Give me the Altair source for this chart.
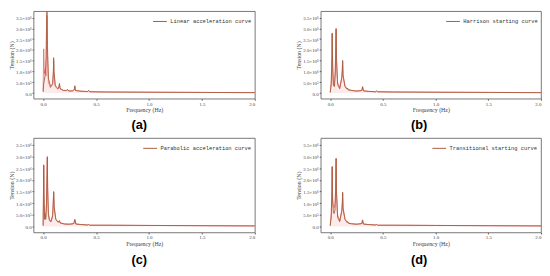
import altair as alt
import pandas as pd

# ---- data (tension in units of 1e6 N) ----
FREQ_A = [0.0, 0.006, 0.012, 0.02, 0.028, 0.033, 0.037, 0.041, 0.05, 0.07, 0.09, 0.097, 0.1, 0.103, 0.115, 0.14, 0.15, 0.155, 0.16, 0.19, 0.22, 0.23, 0.24, 0.28, 0.295, 0.3, 0.305, 0.35, 0.42, 0.43, 0.44, 0.6, 1.0, 1.5, 2.0]
MAIN_A = [0.05, 0.45, 0.6, 0.85, 1.6, 3.2, 3.95, 2.2, 0.7, 0.3, 0.45, 1.0, 1.64, 1.0, 0.35, 0.2, 0.3, 0.45, 0.22, 0.13, 0.12, 0.17, 0.1, 0.1, 0.18, 0.34, 0.12, 0.09, 0.07, 0.13, 0.06, 0.05, 0.04, 0.03, 0.02]
RED_A = [0.1, 2.05, 0.9, 1.1, 0.8, 2.5, 3.6, 1.8, 0.5, 0.25, 0.4, 0.9, 1.5, 0.9, 0.3, 0.18, 0.28, 0.4, 0.2, 0.12, 0.11, 0.15, 0.1, 0.1, 0.16, 0.3, 0.12, 0.09, 0.07, 0.11, 0.06, 0.05, 0.04, 0.03, 0.02]

FREQ_B = [0.0, 0.01, 0.016, 0.019, 0.023, 0.03, 0.035, 0.04, 0.048, 0.053, 0.056, 0.06, 0.07, 0.09, 0.11, 0.115, 0.118, 0.122, 0.14, 0.16, 0.165, 0.17, 0.2, 0.25, 0.3, 0.307, 0.315, 0.36, 0.43, 0.44, 0.45, 0.6, 1.0, 1.5, 2.0]
MAIN_B = [0.02, 0.4, 1.6, 2.78, 1.2, 0.35, 0.4, 0.3, 0.9, 2.2, 3.0, 1.5, 0.4, 0.2, 0.7, 1.1, 1.52, 0.8, 0.3, 0.18, 0.22, 0.15, 0.12, 0.09, 0.12, 0.3, 0.1, 0.08, 0.06, 0.1, 0.06, 0.05, 0.04, 0.03, 0.02]
RED_B = [0.05, 0.6, 1.8, 2.75, 1.4, 0.5, 0.45, 0.4, 1.1, 2.3, 2.95, 1.6, 0.5, 0.25, 0.75, 1.1, 1.45, 0.85, 0.35, 0.2, 0.22, 0.16, 0.13, 0.1, 0.12, 0.28, 0.11, 0.08, 0.06, 0.09, 0.06, 0.05, 0.04, 0.03, 0.02]

FREQ_C = [0.0, 0.003, 0.006, 0.009, 0.015, 0.02, 0.025, 0.032, 0.037, 0.04, 0.043, 0.05, 0.06, 0.075, 0.09, 0.095, 0.1, 0.105, 0.12, 0.14, 0.15, 0.155, 0.16, 0.2, 0.25, 0.29, 0.3, 0.31, 0.36, 0.42, 0.43, 0.44, 0.6, 1.0, 1.5, 2.0]
MAIN_C = [0.02, 1.0, 2.65, 1.2, 0.3, 0.45, 0.3, 0.9, 2.2, 3.0, 1.6, 0.5, 0.25, 0.2, 0.45, 0.9, 1.5, 0.8, 0.3, 0.18, 0.2, 0.25, 0.15, 0.1, 0.09, 0.12, 0.3, 0.1, 0.08, 0.06, 0.08, 0.05, 0.05, 0.04, 0.03, 0.02]
RED_C = [0.05, 1.2, 2.6, 1.4, 0.45, 0.55, 0.4, 1.0, 2.3, 2.95, 1.7, 0.6, 0.3, 0.22, 0.5, 0.95, 1.45, 0.85, 0.32, 0.2, 0.21, 0.24, 0.16, 0.11, 0.1, 0.12, 0.28, 0.1, 0.08, 0.06, 0.08, 0.05, 0.05, 0.04, 0.03, 0.02]

FREQ_D = [0.0, 0.01, 0.016, 0.019, 0.023, 0.03, 0.037, 0.045, 0.05, 0.053, 0.056, 0.06, 0.07, 0.09, 0.11, 0.115, 0.118, 0.122, 0.14, 0.16, 0.165, 0.17, 0.2, 0.25, 0.3, 0.307, 0.315, 0.36, 0.43, 0.44, 0.45, 0.6, 1.0, 1.5, 2.0]
MAIN_D = [0.02, 0.4, 1.5, 2.58, 1.0, 0.6, 0.55, 0.7, 1.3, 2.1, 2.93, 1.4, 0.4, 0.2, 0.65, 1.0, 1.47, 0.75, 0.3, 0.17, 0.2, 0.14, 0.11, 0.09, 0.12, 0.28, 0.1, 0.08, 0.06, 0.08, 0.05, 0.05, 0.04, 0.03, 0.02]
RED_D = [0.05, 0.6, 1.7, 2.55, 1.2, 0.9, 0.8, 0.95, 1.5, 2.2, 2.9, 1.5, 0.5, 0.25, 0.7, 1.0, 1.42, 0.8, 0.33, 0.19, 0.2, 0.15, 0.12, 0.1, 0.12, 0.26, 0.1, 0.08, 0.06, 0.08, 0.05, 0.05, 0.04, 0.03, 0.02]

LABELS = ["Linear acceleration curve", "Harrison starting curve",
          "Parabolic acceleration curve", "Transitional starting curve"]
CAPTIONS = ["(a)", "(b)", "(c)", "(d)"]
X_TICKS = [0.0, 0.5, 1.0, 1.5, 2.0]
Y_TICKS = [0.0, 0.5, 1.0, 1.5, 2.0, 2.5, 3.0, 3.5]

MONO = "Liberation Mono"
SERIF = "Liberation Serif"

Y_LABEL_EXPR = ("datum.value == 0 ? '0.0' : (datum.value < 1 ? '5.0×10⁵' : "
                "format(datum.value, '.1f') + '×10⁶')")


def panel(freq, main, red, label, caption, dx, w, h, cap_offset):
    df = pd.DataFrame({"f": freq, "main": main, "red": red, "series": label})
    xenc = alt.X("f:Q",
                 scale=alt.Scale(domain=[-0.09, 2.0], nice=False, zero=False),
                 axis=alt.Axis(values=X_TICKS, format=".1f", title="Frequency (Hz)"))
    yscale = alt.Scale(domain=[-0.26, 3.8], nice=False, zero=False)
    yaxis = alt.Axis(values=Y_TICKS, labelExpr=Y_LABEL_EXPR, title="Tension (N)")
    base = alt.Chart(df)
    area = base.mark_area(color="#f7b9b9", opacity=0.3, clip=True).encode(
        x=xenc, y=alt.Y("red:Q", scale=yscale, axis=yaxis))
    redline = base.mark_line(color="#e5443c", strokeWidth=0.7, opacity=0.85, clip=True).encode(
        x=xenc, y=alt.Y("red:Q", scale=yscale, axis=yaxis))
    mainline = base.mark_line(strokeWidth=0.9, clip=True).encode(
        x=xenc, y=alt.Y("main:Q", scale=yscale, axis=yaxis),
        color=alt.Color("series:N", scale=alt.Scale(range=["#a85d40"]),
                        legend=alt.Legend(orient="top-right", title=None, offset=3,
                                          labelFont=MONO, labelFontSize=5.5,
                                          labelColor="#333", symbolType="stroke",
                                          symbolSize=196, symbolStrokeWidth=1,
                                          labelOffset=3, padding=0)))
    return alt.layer(area, redline, mainline).properties(
        width=w, height=h,
        title=alt.TitleParams(text=caption, orient="bottom", anchor="middle",
                              font="Liberation Sans", fontSize=13, fontWeight="bold",
                              color="#000", offset=cap_offset, dx=dx))


pa = panel(FREQ_A, MAIN_A, RED_A, LABELS[0], CAPTIONS[0], -5, 225, 89, 6)
pb = panel(FREQ_B, MAIN_B, RED_B, LABELS[1], CAPTIONS[1], -12, 224, 89, 6)
pc = panel(FREQ_C, MAIN_C, RED_C, LABELS[2], CAPTIONS[2], -5, 225, 96, 8)
pd_ = panel(FREQ_D, MAIN_D, RED_D, LABELS[3], CAPTIONS[3], -12, 224, 96, 8)

row1 = alt.hconcat(pa, pb, spacing=40).resolve_scale(color="independent")
row2 = alt.hconcat(pc, pd_, spacing=40).resolve_scale(color="independent")

chart = alt.vconcat(row1, row2, spacing=5).resolve_scale(color="independent").properties(
    padding=0
).configure_view(
    stroke="#555", strokeWidth=0.8
).configure_axis(
    grid=False, domain=False, tickSize=1.5, tickColor="#555",
    labelFont=SERIF, labelFontSize=5, labelColor="#444", labelPadding=1,
    titleFont=SERIF, titleFontSize=6, titleFontWeight="normal", titleColor="#444",
    titlePadding=1
)

chart.save("out.html", embed_options={"renderer": "svg", "actions": False})
